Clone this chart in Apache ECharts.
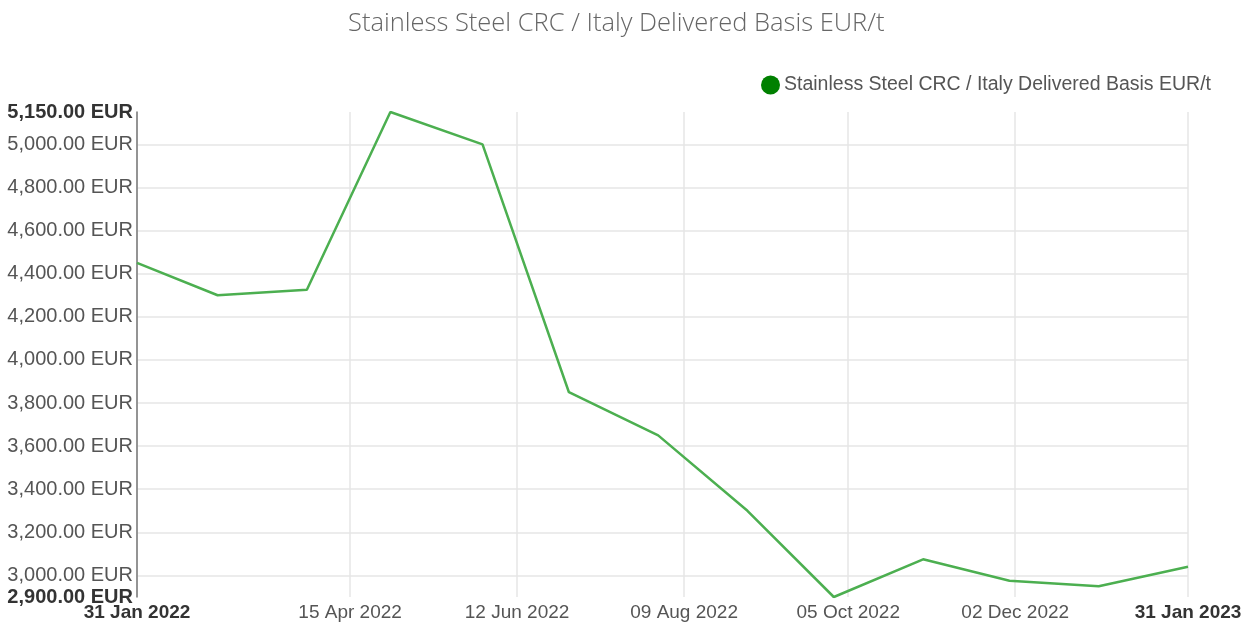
<!DOCTYPE html>
<html>
<head>
<meta charset="utf-8">
<script src="https://cdn.jsdelivr.net/npm/echarts@6/dist/echarts.min.js"></script>
<style>
  html, body { margin: 0; padding: 0; background: #fff; }
  #chart { width: 1260px; height: 625px; }
</style>
</head>
<body>
<div id="chart"></div>
<script>
// month-end prices
const dates = ['2022-01-31', '2022-02-28', '2022-03-31', '2022-04-29', '2022-05-31', '2022-06-30',
               '2022-07-31', '2022-08-31', '2022-09-30', '2022-10-31', '2022-11-30', '2022-12-31', '2023-01-31'];
const prices = [4450, 4300, 4325, 5150, 5000, 3850, 3650, 3300, 2900, 3075, 2975, 2950, 3040];
const xTickDates = ['2022-01-31', '2022-04-15', '2022-06-12', '2022-08-09', '2022-10-05', '2022-12-02', '2023-01-31'];
const yTicks = [3000, 3200, 3400, 3600, 3800, 4000, 4200, 4400, 4600, 4800, 5000];
const yMin = 2900;
const yMax = 5150;
const seriesName = 'Stainless Steel CRC / Italy Delivered Basis EUR/t';

const ts = d => Date.parse(d + 'T00:00:00Z');
const months = ['Jan', 'Feb', 'Mar', 'Apr', 'May', 'Jun', 'Jul', 'Aug', 'Sep', 'Oct', 'Nov', 'Dec'];
const xMin = ts(xTickDates[0]);
const xMax = ts(xTickDates[xTickDates.length - 1]);

function fmtDate(v) {
    const d = new Date(v);
    const day = String(d.getUTCDate()).padStart(2, '0');
    const s = day + ' ' + months[d.getUTCMonth()] + ' ' + d.getUTCFullYear();
    return (v === xMin || v === xMax) ? '{b|' + s + '}' : s;
}
function fmtEur(v) {
    const s = v.toLocaleString('en-US', { minimumFractionDigits: 2, maximumFractionDigits: 2 }) + ' EUR';
    return (v === yMin || v === yMax) ? '{b|' + s + '}' : s;
}

const chart = echarts.init(document.getElementById('chart'));
chart.setOption({
    animation: false,
    textStyle: { fontFamily: 'Liberation Sans, Arial, sans-serif' },
    title: {
        text: seriesName,
        left: 343,
        top: 6,
        textStyle: { fontFamily: 'Open Sans, sans-serif', fontSize: 25.5, fontWeight: 300, color: '#666' }
    },
    legend: {
        top: 70,
        right: 44,
        icon: 'circle',
        itemWidth: 19,
        itemHeight: 19,
        itemGap: 4,
        textStyle: { fontSize: 19.5, color: '#555', padding: [0, 0, 0, -1] },
        data: [{ name: seriesName, itemStyle: { color: '#008000' } }]
    },
    grid: { left: 137, right: 72, top: 112, bottom: 28, containLabel: false },
    xAxis: {
        type: 'value',
        min: xMin,
        max: xMax,
        axisLine: { show: false },
        axisTick: { show: false, customValues: xTickDates.map(ts) },
        splitLine: { show: true, lineStyle: { color: '#e6e6e6', width: 1.5 } },
        axisLabel: {
            customValues: xTickDates.map(ts),
            formatter: fmtDate,
            fontSize: 19,
            color: '#555',
            margin: 6,
            rich: { b: { fontSize: 19, fontWeight: 'bold', color: '#333' } }
        }
    },
    yAxis: {
        type: 'value',
        min: yMin,
        max: yMax,
        axisLine: { show: true, lineStyle: { color: '#777', width: 1.5 } },
        axisTick: { show: false, customValues: yTicks },
        splitLine: { show: true, lineStyle: { color: '#e6e6e6', width: 1.5 } },
        axisLabel: {
            customValues: [yMin].concat(yTicks, [yMax]),
            formatter: fmtEur,
            fontSize: 20,
            color: '#555',
            margin: 4,
            rich: { b: { fontSize: 20, fontWeight: 'bold', color: '#333' } }
        }
    },
    series: [{
        name: seriesName,
        type: 'line',
        showSymbol: false,
        data: dates.map((d, i) => [ts(d), prices[i]]),
        itemStyle: { color: '#008000' },
        lineStyle: { color: '#4caf50', width: 2.5 }
    }]
});
</script>
</body>
</html>
